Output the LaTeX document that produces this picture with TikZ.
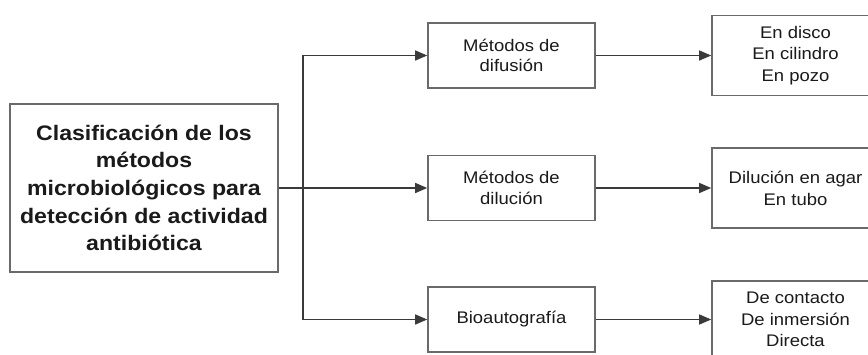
\documentclass[tikz,border=0pt]{standalone}
\usepackage{fontspec}
\setmainfont{Liberation Sans}[FakeStretch=1.1]
\usetikzlibrary{arrows.meta}
\definecolor{boxgray}{HTML}{6A6A6A}
\definecolor{linegray}{HTML}{3A3A3A}
\definecolor{txt}{HTML}{1A1A1A}
\tikzset{
  mainbox/.style={draw=boxgray, line width=1.6pt, minimum width=268pt, minimum height=168pt,
    align=center, inner sep=0pt, text=txt, font=\bfseries\fontsize{21}{27.7}\selectfont},
  midbox/.style={draw=boxgray, line width=1.6pt, minimum width=167pt, minimum height=65pt,
    align=center, inner sep=0pt, text=txt, font=\fontsize{16.8}{20.5}\selectfont},
  rightbox/.style={draw=boxgray, line width=1.6pt, minimum width=167pt, minimum height=80pt,
    align=center, inner sep=0pt, text=txt, font=\fontsize{16.8}{21.8}\selectfont},
  conn/.style={draw=linegray, line width=1.3pt},
  arr/.style={conn, -{Triangle[length=12pt,width=10pt]}}
}
\begin{document}
\begin{tikzpicture}[x=1pt,y=-1pt]
\clip (0,0) rectangle (868,355);
\fill[white] (0,0) rectangle (868,355);
\node[mainbox] (main) at (144,188) {Clasificación de los\\métodos\\microbiológicos para\\detección de actividad\\antibiótica};
\node[midbox] (m1) at (511.5,55.5) {Métodos de\\difusión};
\node[midbox] (m2) at (511.5,188) {Métodos de\\dilución};
\node[midbox] (m3) at (511.5,319.5) {Bioautografía};
\node[rightbox] (r1) at (795.5,55.5) {En disco\\En cilindro\\En pozo};
\node[rightbox] (r2) at (795.5,188) {Dilución en agar\\En tubo};
\node[rightbox, minimum height=77pt] (r3) at (795.5,319.5) {De contacto\\De inmersión\\Directa};
\coordinate (j) at (303,188);
\draw[conn] (main.east) -- (j);
\draw[arr] (j) |- (m1.west);
\draw[arr] (j) -- (m2.west);
\draw[arr] (j) |- (m3.west);
\draw[arr] (m1.east) -- (r1.west);
\draw[arr] (m2.east) -- (r2.west);
\draw[arr] (m3.east) -- (r3.west);
\end{tikzpicture}
\end{document}
